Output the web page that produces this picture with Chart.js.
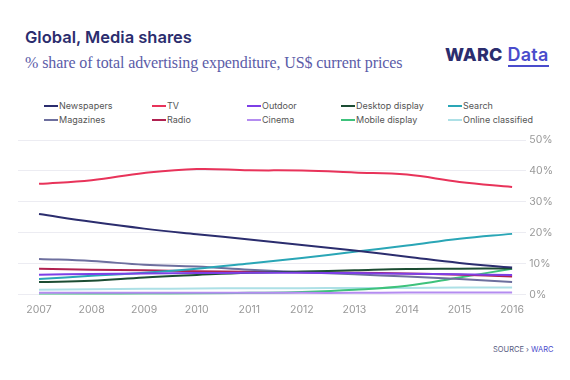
<!DOCTYPE html>
<html>
<head>
<meta charset="utf-8">
<script src="https://cdn.jsdelivr.net/npm/chart.js@4"></script>
<style>
  body { margin: 0; background: #fff; }
  #wrap { position: relative; width: 570px; height: 380px; overflow: hidden; font-family: Inter, sans-serif; }
  #title { position: absolute; left: 25px; top: 27px; font-size: 16.5px; font-weight: 600; color: #2b2d6e; }
  #sub { position: absolute; left: 25px; top: 54px; font-family: "Liberation Serif", serif; font-size: 16px; color: #5b5ca8; letter-spacing: -0.1px; }
  #logo { position: absolute; left: 445px; top: 44px; font-size: 18px; font-weight: 800; color: #2b2d6e; letter-spacing: 0.2px; }
  #logo span { color: #4a4ccc; font-weight: 600; margin-left: 5px; border-bottom: 2px solid #4a4ccc; }
  #legend { position: absolute; left: 0; top: 100px; width: 570px; height: 30px; }
  .li { position: absolute; font-size: 9px; color: #555; white-space: nowrap; line-height: 12px; }
  .li i { display: inline-block; width: 14px; height: 2px; vertical-align: middle; margin-right: 1px; position: relative; top: -1px; }
  #source { position: absolute; left: 493px; top: 345px; font-size: 7.5px; color: #555a80; }
  #source b { font-weight: 400; color: #4a4ccc; }
  #c { position: absolute; left: 0; top: 128px; }
</style>
</head>
<body>
<div id="wrap">
  <div id="title">Global, Media shares</div>
  <div id="sub">% share of total advertising expenditure, US$ current prices</div>
  <div id="logo">WARC<span>Data</span></div>
  <div id="legend"></div>
  <canvas id="c" width="570" height="189"></canvas>
  <div id="source">SOURCE › <b>WARC</b></div>
</div>
<script>
const years = [2007, 2008, 2009, 2010, 2011, 2012, 2013, 2014, 2015, 2016]
const yTicks = [0, 10, 20, 30, 40, 50]

const newspapers = [26, 23.5, 21.3, 19.5, 17.8, 16, 14.2, 12.2, 10.2, 8.7]
const tv = [35.8, 37, 39.3, 40.6, 40.2, 40.1, 39.5, 38.8, 36.4, 34.8]
const outdoor = [6.4, 6.6, 6.8, 6.9, 7, 7, 6.9, 6.7, 6.5, 6.3]
const desktop = [4, 4.4, 5.5, 6.3, 7, 7.4, 7.8, 8.2, 8.3, 8.4]
const search = [5, 6, 7, 8.3, 10, 11.8, 13.8, 15.8, 18, 19.6]
const magazines = [11.5, 10.8, 9.6, 9, 8, 7.2, 6.5, 5.8, 5, 4]
const radio = [8.3, 8, 7.8, 7.5, 7.3, 7.2, 7, 6.8, 6.4, 5.8]
const cinema = [0.5, 0.5, 0.5, 0.5, 0.5, 0.5, 0.5, 0.6, 0.6, 0.6]
const mobile = [0, 0.1, 0.2, 0.3, 0.5, 0.8, 1.5, 2.8, 5.5, 8.3]
const classified = [1.5, 1.7, 1.8, 1.9, 2, 2, 2.1, 2.1, 2.2, 2.2]

// legend columns, row 1 then row 2
const legendX = [44, 152, 247, 341, 448]

function series(label, values, color) {
    return {
        label: label,
        data: values.map((v, i) => ({ x: years[i], y: v })),
        borderColor: color,
        backgroundColor: color,
        borderWidth: 2,
        pointRadius: 0,
        tension: 0.4,
        fill: false
    }
}

const datasets = [
    series('Newspapers', newspapers, '#2b2d6e'),
    series('TV', tv, '#e8335a'),
    series('Outdoor', outdoor, '#7d3fe6'),
    series('Desktop display', desktop, '#1c4d33'),
    series('Search', search, '#2aa6b6'),
    series('Magazines', magazines, '#6d6f9e'),
    series('Radio', radio, '#b02150'),
    series('Cinema', cinema, '#b48cf0'),
    series('Mobile display', mobile, '#3ec27c'),
    series('Online classified', classified, '#ade0e6')
]

// first series on top
const drawOrder = datasets.map((d, i) => Object.assign({}, d, { order: i }))

let chart = new Chart(document.getElementById('c'), {
    type: 'line',
    data: { datasets: drawOrder },
    options: {
        responsive: false,
        animation: false,
        layout: { padding: { left: 18, right: 14, top: 12, bottom: 0 } },
        plugins: { legend: { display: false }, tooltip: { enabled: false } },
        scales: {
            x: {
                type: 'linear',
                min: 2006.6,
                max: 2016.27,
                afterBuildTicks: (axis) => { axis.ticks = years.map(v => ({ value: v })) },
                grid: { display: false },
                border: { display: false },
                ticks: {
                    color: '#999',
                    font: { family: 'Inter', size: 10.5 },
                    padding: 1,
                    callback: (v) => String(v)
                }
            },
            y: {
                position: 'right',
                min: 0,
                max: 50,
                afterBuildTicks: (axis) => { axis.ticks = yTicks.map(v => ({ value: v })) },
                grid: { color: '#ececf2', lineWidth: 1, drawTicks: false },
                border: { display: false },
                ticks: {
                    color: '#999',
                    font: { family: 'Inter', size: 10.5 },
                    padding: 3,
                    callback: (v) => v + '%'
                }
            }
        }
    }
})

// html legend from the chart's datasets
const leg = document.getElementById('legend')
datasets.forEach((d, i) => {
    const el = document.createElement('div')
    el.className = 'li'
    el.style.left = legendX[i % 5] + 'px'
    el.style.top = (i < 5 ? 0 : 14) + 'px'
    el.innerHTML = '<i style="background:' + d.borderColor + '"></i>' + d.label
    leg.appendChild(el)
})
</script>
</body>
</html>
